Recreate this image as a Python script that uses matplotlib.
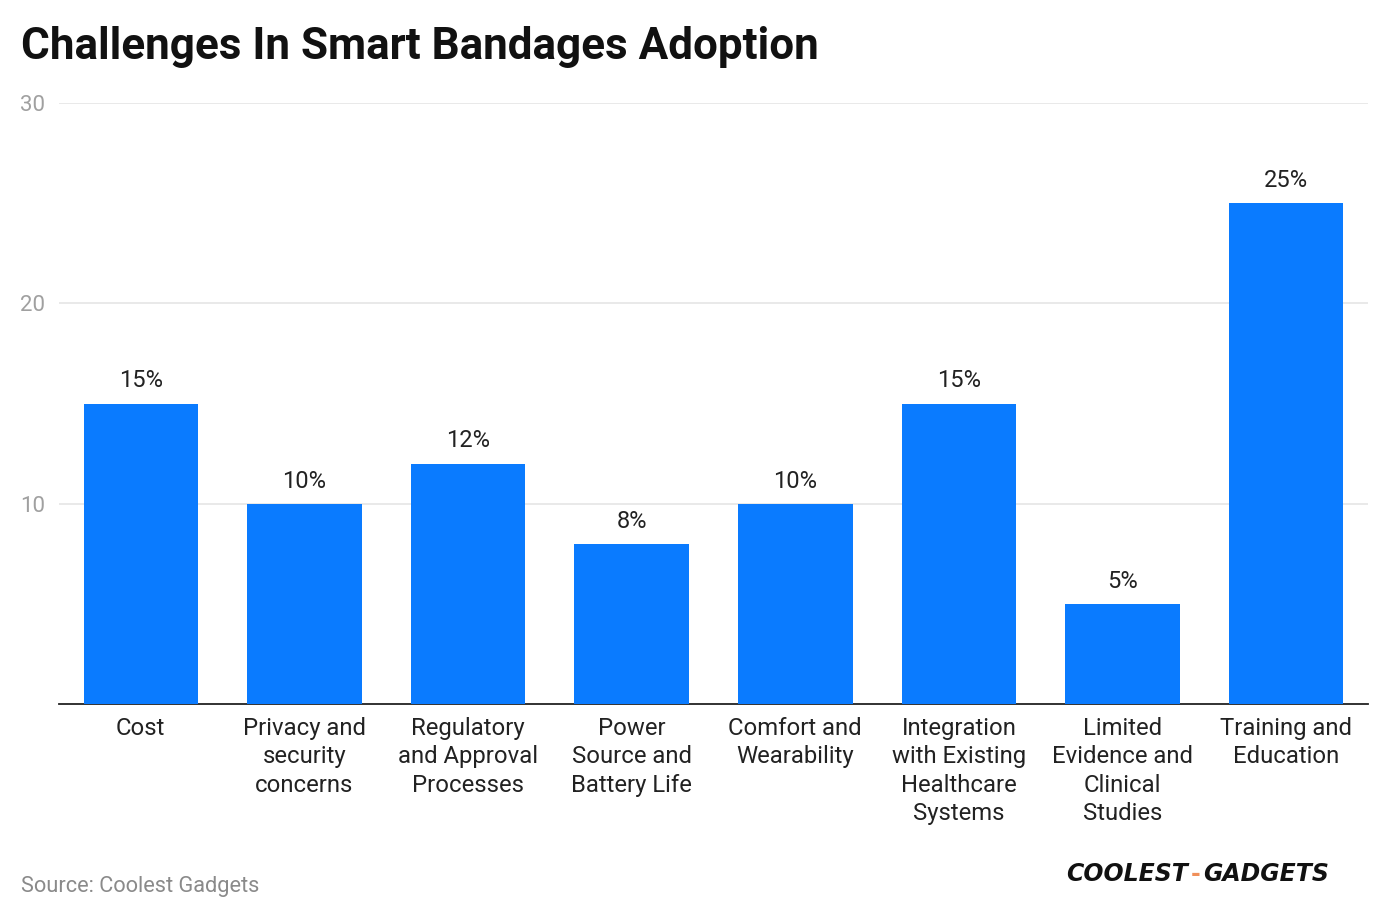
import matplotlib
matplotlib.use("Agg")
import matplotlib.pyplot as plt

plt.rcParams['font.family'] = ['Roboto', 'DejaVu Sans']

# Data
categories = [
    "Cost",
    "Privacy and\nsecurity\nconcerns",
    "Regulatory\nand Approval\nProcesses",
    "Power\nSource and\nBattery Life",
    "Comfort and\nWearability",
    "Integration\nwith Existing\nHealthcare\nSystems",
    "Limited\nEvidence and\nClinical\nStudies",
    "Training and\nEducation",
]
values = [15, 10, 12, 8, 10, 15, 5, 25]
y_ticks = [10, 20, 30]

bar_color = "#0A7BFF"

fig = plt.figure(figsize=(13.88, 9.18), dpi=100)
ax = fig.add_axes([0.0425, 0.2331, 0.943, 0.6547])

x = range(len(categories))
ax.bar(x, values, width=0.70, color=bar_color, zorder=3)

# value labels above bars
for i, v in enumerate(values):
    ax.annotate(f"{v}%", (i, v), xytext=(0, 8), textcoords="offset points",
                ha="center", va="bottom", fontsize=17, color="#222222")

ax.set_xlim(-0.5, len(categories) - 0.5)
ax.set_ylim(0, 30)
ax.set_yticks(y_ticks)
ax.set_yticklabels([str(t) for t in y_ticks], fontsize=16, color="#a0a0a0")
ax.set_xticks(list(x))
ax.set_xticklabels(categories, fontsize=17.2, color="#222222", linespacing=1.29)
ax.tick_params(axis="x", length=0, pad=9.5)
ax.tick_params(axis="y", length=0, pad=10)
ax.yaxis.grid(True, color="#e5e5e5", linewidth=1.2, zorder=0)

for side in ["top", "right", "left"]:
    ax.spines[side].set_visible(False)
ax.spines["bottom"].set_color("#222222")
ax.spines["bottom"].set_linewidth(1.3)

fig.text(0.015, 0.949, "Challenges In Smart Bandages Adoption", fontsize=31.7,
         fontweight="bold", color="#111111", ha="left", va="center")
fig.text(0.015, 0.034, "Source: Coolest Gadgets", fontsize=15.7, color="#8a8a8a",
         ha="left", va="center")

# logo imitation
fig.text(0.856, 0.048, "COOLEST", fontsize=17, fontweight="bold", style="italic",
         color="#111111", ha="right", va="center", family="DejaVu Sans")
fig.text(0.8615, 0.048, "-", fontsize=17, fontweight="bold",
         color="#f0905a", ha="center", va="center", family="DejaVu Sans")
fig.text(0.867, 0.048, "GADGETS", fontsize=17, fontweight="bold", style="italic",
         color="#111111", ha="left", va="center", family="DejaVu Sans")

fig.savefig("out.png", dpi=100, facecolor="white")
